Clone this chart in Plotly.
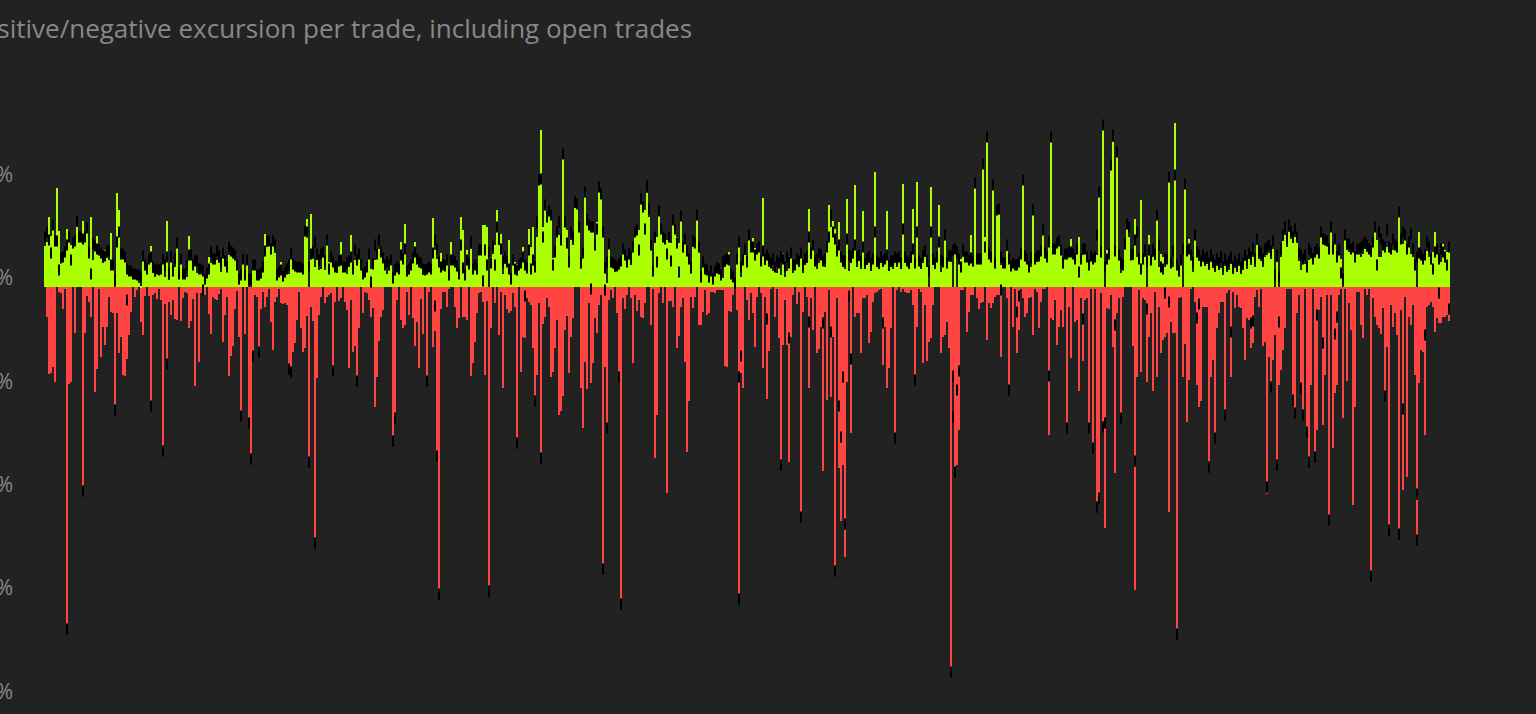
import plotly.graph_objects as go

# Readings in chart units; 103.3 units make one 10 % axis step.
UNITS_PER_STEP = 103.3

positive_excursion = [
41,45,70,51,57,51,99,56,26,32,30,58,49,42,42,44,60,47,47,66,49,54,30,70,27,
37,51,35,32,24,37,29,27,54,18,0,94,77,29,29,25,15,14,13,9,8,9,4,1,27,
17,13,24,41,14,10,14,15,15,24,10,66,7,27,15,20,40,10,24,9,9,10,51,28,19,
23,14,17,14,12,4,10,30,24,32,24,27,24,15,30,30,24,32,31,30,27,19,12,7,29,
12,22,0,0,17,17,10,8,14,17,53,40,42,42,42,34,14,19,25,10,12,17,13,38,28,
22,18,17,15,13,53,68,0,73,28,20,27,17,18,32,17,42,25,27,28,23,14,25,45,15,
17,13,20,52,13,27,23,28,18,10,12,18,35,18,22,27,28,38,30,28,17,13,25,27,7,
13,17,18,45,27,63,13,13,17,27,45,27,28,23,12,18,18,18,15,69,37,28,22,34,20,
18,28,12,45,27,22,23,10,70,57,10,37,22,38,22,22,15,33,32,62,62,60,0,30,33,
42,77,42,53,13,23,22,47,13,23,25,23,22,20,40,25,23,58,40,60,20,50,102,157,60,
77,67,74,67,29,39,57,52,52,129,62,57,20,47,42,79,79,55,27,30,90,64,60,62,60,
37,65,97,90,50,24,4,39,27,20,15,19,19,27,42,30,24,32,22,37,54,54,57,84,77,
77,94,70,40,19,44,50,72,54,45,45,47,47,44,64,60,50,44,67,39,44,34,32,15,40,
40,68,35,12,30,22,14,12,14,4,14,14,20,12,9,20,24,35,10,9,4,24,48,10,24,
32,20,47,37,49,39,42,42,30,89,22,28,20,24,16,20,14,24,12,34,10,16,22,38,14,
18,24,20,30,14,22,24,78,28,46,22,18,24,30,22,20,42,82,60,66,58,36,65,26,20,
18,88,16,24,30,102,20,26,18,76,18,22,24,16,26,115,20,18,24,20,24,76,16,20,18,
24,20,26,18,103,24,22,18,24,78,20,105,22,18,24,30,20,0,100,22,18,26,82,15,24,
47,20,27,25,0,35,0,32,28,30,27,27,27,52,27,100,25,23,24,118,50,145,30,25,98,
27,82,82,22,27,25,36,30,17,23,24,24,28,28,103,28,25,23,20,73,28,25,31,40,58,
30,27,47,148,35,38,40,46,34,28,34,30,36,48,37,25,40,50,27,32,33,35,18,30,27,
26,32,90,32,157,0,37,36,118,145,38,131,30,14,25,38,59,50,28,27,68,30,30,87,30,
30,0,52,30,30,27,67,20,33,30,20,27,105,25,20,164,22,20,28,0,103,35,48,33,15,
47,30,26,27,25,21,23,17,25,19,15,21,17,19,12,21,15,17,23,13,19,15,21,13,17,
26,18,28,22,30,20,42,28,26,20,30,32,34,28,38,0,25,0,30,46,52,40,55,48,44,
50,44,26,17,23,23,17,27,35,25,35,35,32,50,45,45,43,35,57,37,45,25,33,28,0,
47,37,35,35,37,25,37,35,30,33,38,35,33,30,45,57,47,30,30,38,38,40,38,38,37,
37,35,70,43,43,48,42,42,33,30,27,0,55,30,25,30,36,30,25,35,55,33,27,25,43,
37,35,37,
]

positive_marker = [
50,55,47,34,62,46,46,17,29,30,35,42,50,27,44,46,66,50,50,48,50,59,34,13,43,
41,38,37,34,31,31,36,36,22,22,8,45,55,33,33,30,18,16,16,13,13,12,12,10,31,
22,18,28,30,20,17,18,17,18,28,22,30,14,30,16,28,44,13,28,13,13,22,32,32,22,
26,26,18,18,16,8,14,18,35,28,28,36,31,24,34,26,20,40,36,34,32,22,8,12,28,
12,27,8,8,22,22,12,12,14,20,36,46,46,38,46,42,12,15,17,11,15,18,22,33,23,
21,20,20,20,18,56,55,20,33,35,45,33,27,33,35,26,47,18,30,25,20,20,26,27,20,
20,24,26,30,18,37,27,33,22,13,15,20,33,5,23,42,33,47,35,29,22,25,22,27,9,
17,20,18,32,28,38,16,18,22,29,35,28,25,24,18,17,18,20,18,34,47,38,25,20,22,
21,27,12,27,27,25,21,13,42,19,12,27,23,45,18,22,18,37,37,6,37,22,35,24,41,
22,60,48,38,25,30,25,18,8,27,18,17,22,24,30,22,19,37,18,27,20,65,107,108,50,
82,70,76,72,22,35,55,65,47,133,65,44,25,55,50,85,83,60,24,34,95,67,62,60,60,
42,58,100,93,55,19,25,43,25,24,22,21,23,26,38,32,25,33,30,40,55,57,37,88,80,
58,101,78,42,16,50,25,76,58,50,48,33,50,26,67,58,44,15,71,40,48,36,28,19,46,
44,72,40,10,25,18,17,10,16,8,16,19,18,12,25,27,28,27,13,10,4,28,45,20,27,
38,25,52,40,40,32,38,40,26,36,28,32,28,24,28,20,26,24,30,28,20,30,24,34,22,
22,28,26,34,22,28,30,50,34,42,26,28,34,32,26,28,40,50,72,55,48,36,42,30,26,
26,48,32,30,34,42,30,32,26,40,24,28,30,24,28,55,26,24,30,26,28,32,22,26,26,
30,28,30,24,58,30,26,24,30,38,24,55,26,24,32,36,26,16,55,28,24,30,45,27,25,
52,24,31,31,37,38,35,28,20,37,30,30,27,29,26,104,28,28,28,123,40,150,33,30,102,
24,77,78,30,24,24,42,28,21,24,22,22,25,33,107,31,28,20,29,77,28,31,31,36,57,
34,30,45,150,38,38,44,46,37,24,33,33,35,35,33,28,38,15,28,38,38,30,22,31,28,
30,52,95,35,162,20,28,33,122,152,36,135,32,24,22,43,63,60,32,33,47,55,28,18,28,
37,25,37,27,37,33,72,42,20,18,28,28,110,24,36,112,22,16,27,38,103,36,38,32,25,
52,35,32,26,32,28,30,24,32,26,22,28,24,30,20,28,22,26,30,20,26,22,28,20,24,
32,26,34,30,38,28,48,36,34,28,38,40,42,36,46,12,32,10,38,52,60,48,62,55,50,
58,50,34,32,28,32,20,38,34,28,35,38,34,55,48,47,46,38,60,38,48,30,37,14,8,
52,43,43,38,40,30,38,38,40,42,45,42,38,36,45,60,22,55,48,42,40,57,40,38,48,
42,40,75,48,55,52,38,45,53,38,22,30,34,32,28,32,45,40,28,18,35,38,28,38,35,
30,22,40,
]

negative_excursion = [
0,30,87,86,80,95,0,5,6,22,2,338,97,95,0,46,0,0,0,200,46,9,15,30,0,
105,82,1,70,40,58,40,10,25,26,118,26,66,50,88,89,72,48,25,0,10,3,0,35,48,
9,0,9,115,8,6,12,2,13,160,17,73,15,28,13,32,33,0,34,11,5,6,41,34,12,
99,6,75,6,7,8,0,27,47,10,12,13,7,2,55,28,10,89,69,59,22,4,50,125,0,
47,0,132,168,65,8,10,62,22,5,20,10,2,35,63,15,10,1,16,17,16,18,78,81,65,
56,33,5,41,65,61,29,171,20,34,251,91,28,10,0,16,10,8,6,80,15,0,14,11,0,
15,23,81,13,65,59,90,41,0,26,5,6,13,30,21,120,90,54,30,23,0,0,0,0,150,
127,13,0,33,41,38,5,28,0,31,59,35,81,12,47,0,90,5,0,60,44,164,302,22,5,
5,20,1,0,0,20,41,31,0,30,30,33,0,89,76,55,26,6,5,15,88,14,300,41,0,
16,0,48,5,101,8,22,26,24,6,20,152,0,85,50,51,11,15,18,61,110,88,16,166,37,
30,11,20,90,85,61,33,128,124,109,43,29,86,50,31,0,0,0,101,141,75,102,16,96,76,
31,46,18,8,278,80,137,13,3,11,0,26,86,313,11,22,8,0,11,76,8,24,13,30,31,
16,0,0,38,1,171,128,6,0,16,0,206,14,14,20,0,61,49,20,11,75,165,114,10,21,
10,0,38,38,25,3,28,26,5,5,6,3,3,3,3,79,80,24,25,8,0,23,308,86,101,
0,13,33,6,26,60,10,0,6,81,10,112,64,2,0,30,2,51,174,58,13,58,175,50,8,
0,17,5,226,25,0,10,101,11,43,0,66,62,40,184,25,113,3,110,50,280,11,181,234,178,
270,95,5,146,0,30,26,26,66,11,11,8,56,45,15,6,5,3,1,78,40,101,81,41,0,
148,3,0,5,1,5,6,6,3,18,88,40,1,5,76,18,74,55,51,18,0,0,0,66,50,
48,35,61,382,86,180,178,143,3,3,0,45,25,8,8,0,11,22,16,15,0,53,16,21,16,
10,8,8,70,0,0,11,100,0,40,1,66,43,1,11,30,26,11,10,48,1,5,41,15,1,
1,0,148,31,33,13,58,40,23,40,0,136,20,71,0,35,33,104,11,74,13,11,136,1,156,
1,215,207,6,135,241,21,22,8,60,186,26,11,127,10,0,0,0,0,59,303,90,3,85,11,
13,95,50,26,104,5,90,20,66,53,50,46,225,35,46,46,343,11,10,90,57,135,93,1,0,
15,98,120,114,20,20,20,175,90,73,146,41,26,15,15,125,6,3,90,5,21,8,20,21,41,
73,31,33,61,56,10,3,20,1,59,55,207,70,98,73,48,173,98,83,63,41,1,1,1,110,
121,26,8,98,123,1,141,171,98,1,166,143,23,10,138,88,8,230,8,161,106,98,8,1,131,
2,94,16,43,218,120,5,5,38,51,1,8,1,286,11,30,38,41,47,21,105,60,240,18,40,
26,48,243,23,203,10,190,30,38,18,88,250,96,63,65,148,20,18,15,20,45,31,36,36,30,
30,28,34,
]

negative_marker_trade = [
11,19,35,41,53,59,61,79,98,102,103,104,107,122,123,132,135,144,156,174,175,191,195,196,197,
222,236,240,245,248,273,279,280,281,287,288,347,347,348,361,368,372,378,382,389,393,395,397,398,399,
400,402,403,419,425,435,453,454,454,455,456,457,478,482,486,487,502,511,519,522,524,526,527,529,530,
535,538,545,551,560,562,566,576,577,582,585,590,593,603,604,611,613,616,617,624,625,628,629,631,632,
635,636,639,642,645,646,663,670,672,677,679,686,686,690,697,702,
]
negative_marker_value = [
342,204,123,13,119,164,77,3,129,136,172,69,65,82,85,175,256,84,94,154,131,94,19,169,307,
304,156,9,114,171,2,282,3,141,90,317,312,90,69,32,178,51,230,35,36,45,284,119,150,90,
237,9,72,36,151,93,385,89,130,185,103,84,3,103,25,9,89,141,32,141,161,220,211,140,136,
38,131,174,22,6,15,347,31,17,180,151,128,45,36,34,200,100,178,35,113,126,101,128,145,175,
170,28,56,233,47,30,289,109,243,247,122,207,253,48,6,22,
]

tick_labels = ["10%", "0%", "-10%", "-20%", "-30%", "-40%"]
tick_values = [10, 0, -10, -20, -30, -40]

assert len(positive_excursion) == len(positive_marker) == len(negative_excursion) == 703
assert len(negative_marker_trade) == len(negative_marker_value)

scale = 10 / UNITS_PER_STEP
trades = list(range(len(positive_excursion)))

fig = go.Figure()
fig.add_bar(x=trades, y=[-v * scale for v in negative_excursion],
            marker=dict(color="#ff4444", line_width=0), name="Negative excursion")
fig.add_bar(x=trades, y=[v * scale for v in positive_excursion],
            marker=dict(color="#aaff00", line_width=0), name="Positive excursion")
fig.add_scatter(x=trades, y=[v * scale for v in positive_marker], mode="markers",
                marker=dict(symbol="line-ns", size=8, color="#000000",
                            line=dict(color="#000000", width=2)),
                name="Positive, open")
fig.add_scatter(x=negative_marker_trade, y=[-v * scale for v in negative_marker_value], mode="markers",
                marker=dict(symbol="line-ns", size=8, color="#000000",
                            line=dict(color="#000000", width=2)),
                name="Negative, open")

fig.update_layout(
    width=1536, height=714, autosize=False,
    margin=dict(l=44, r=86, t=0, b=0, pad=0, autoexpand=False),
    paper_bgcolor="#222222", plot_bgcolor="#222222",
    barmode="overlay", bargap=0, showlegend=False,
    font=dict(family="Open Sans", color="#888888"),
    xaxis=dict(range=[-0.5, 702.5], visible=False, fixedrange=True),
    yaxis=dict(range=[-41.33, 27.78], showgrid=False, zeroline=False, showline=False,
               tickmode="array", tickvals=tick_values, ticktext=tick_labels,
               ticks="", ticklabelstandoff=30, ticklabelshift=-9,
               tickfont=dict(size=21, color="#888888"), fixedrange=True),
    annotations=[dict(text="Positive/negative excursion per trade, including open trades",
                      xref="paper", yref="paper", x=0, y=1, xanchor="left", yanchor="top",
                      xshift=-80, yshift=-8, showarrow=False,
                      font=dict(family="Open Sans", size=26, color="#888888"))],
)
fig.write_html("out.html", config=dict(displayModeBar=False),
               post_script="document.body.style.margin='0';document.body.style.background='#222222';")
